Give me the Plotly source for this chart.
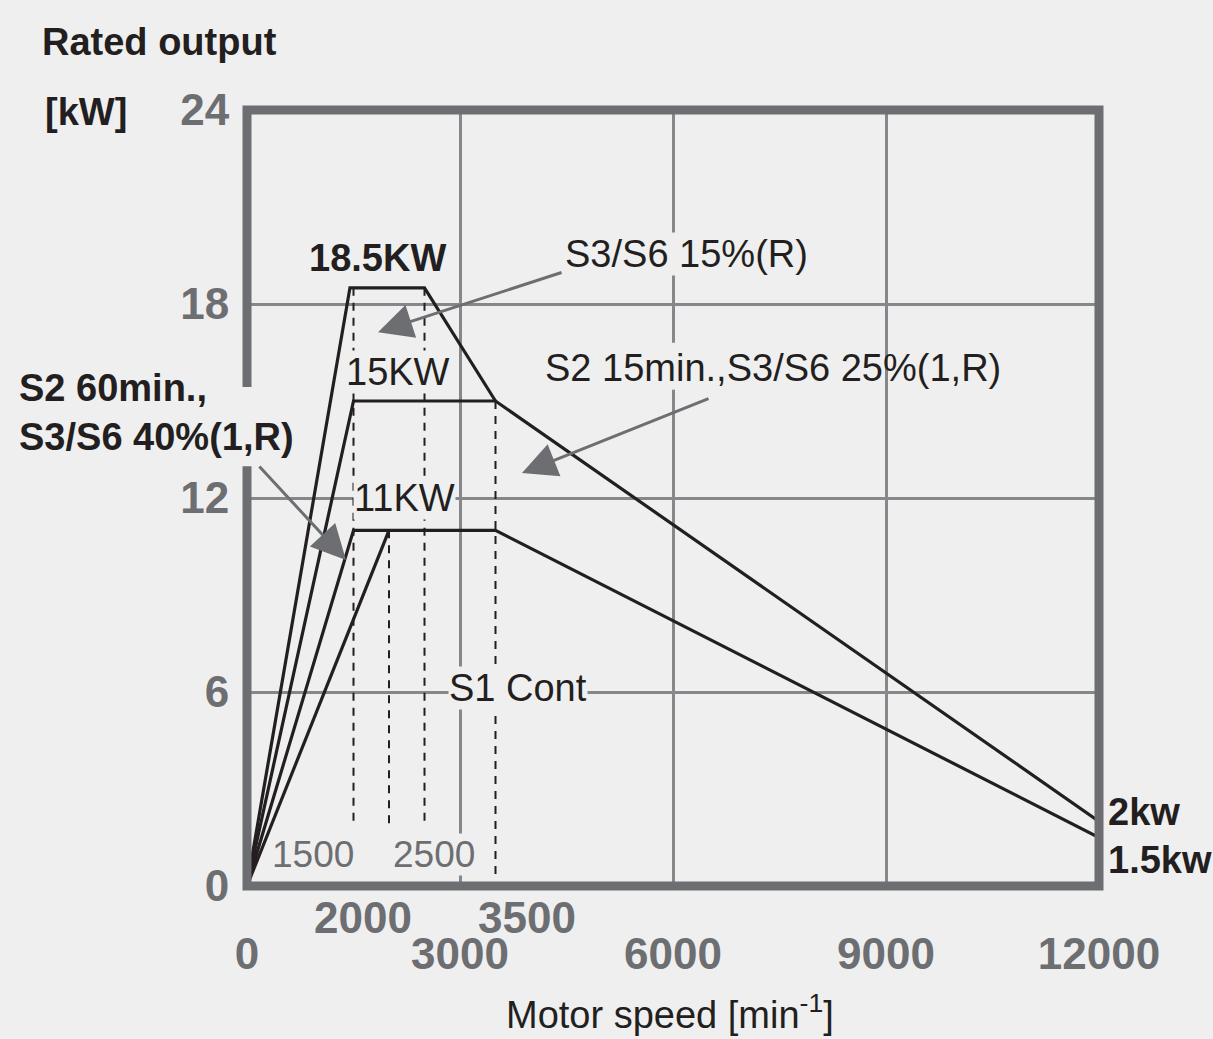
import plotly.graph_objects as go

# ---------------- data ----------------
speed_185 = [0, 1450, 2500, 3500]
power_185 = [0, 18.5, 18.5, 15]
speed_15 = [0, 1500, 3500, 12000]
power_15 = [0, 15, 15, 2]
speed_11 = [0, 1500, 3500, 12000]
power_11 = [0, 11, 11, 1.5]
speed_s1 = [0, 2000]
power_s1 = [0, 11]

dash_speeds = [1500, 2000, 2500, 3500]
dash_top = [18.5, 11, 18.5, 15]
dash_bottom = [1.8, 1.8, 1.8, 0.25]

x_ticks = [0, 3000, 6000, 9000, 12000]
x_ticks_extra = [2000, 3500]
y_ticks = [0, 6, 12, 18, 24]
inner_speed_labels = [1500, 2500]

BG = "#efefef"
GRAY = "#6d6e71"
GRID = "#86878a"
INK = "#231f20"
FONT = "Liberation Sans, Arial, sans-serif"

fig = go.Figure()

line_style = dict(color=INK, width=3.2)
for xs, ys in [(speed_185, power_185), (speed_15, power_15),
               (speed_11, power_11), (speed_s1, power_s1)]:
    fig.add_trace(go.Scatter(x=xs, y=ys, mode="lines", line=line_style,
                             hoverinfo="skip", showlegend=False))

dx, dy = [], []
for s, t, b in zip(dash_speeds, dash_top, dash_bottom):
    dx += [s, s, None]
    dy += [t, b, None]
fig.add_trace(go.Scatter(x=dx, y=dy, mode="lines",
                         line=dict(color=INK, width=2, dash="8px,7px"),
                         hoverinfo="skip", showlegend=False))

tickfont = dict(family=FONT, size=44, color=GRAY, weight="bold")

fig.update_layout(
    width=1213, height=1039, autosize=False,
    margin=dict(l=247, r=114, t=110, b=153, pad=0),
    paper_bgcolor=BG, plot_bgcolor=BG,
    showlegend=False,
    xaxis=dict(range=[0, 12000], tickvals=x_ticks, ticktext=[str(v) for v in x_ticks],
               showgrid=True, gridcolor=GRID, gridwidth=2.5, zeroline=False,
               showline=False, ticks="outside", ticklen=29,
               tickcolor="rgba(0,0,0,0)", tickfont=tickfont, fixedrange=True),
    yaxis=dict(range=[0, 24], tickvals=y_ticks, ticktext=[str(v) for v in y_ticks],
               showgrid=True, gridcolor=GRID, gridwidth=2.5, zeroline=False,
               showline=False, ticks="outside", ticklen=8,
               tickcolor="rgba(0,0,0,0)", tickfont=tickfont, fixedrange=True),
)

# thick frame
fig.add_shape(type="rect", xref="paper", yref="paper", x0=0, x1=1, y0=0, y1=1,
              line=dict(color=GRAY, width=9), layer="above")
# gap in the left frame behind the S2 60min label
fig.add_shape(type="rect", xref="paper", yref="paper", x0=-0.012, x1=0.008,
              y0=0.541, y1=0.643, fillcolor=BG, line=dict(width=0), layer="above")
# small gap in the 6000 grid line behind the S2 15min label
fig.add_shape(type="rect", xref="x", yref="y", x0=5930, x1=6070, y0=15.35, y1=16.8,
              fillcolor=BG, line=dict(width=0), layer="above")

txt = dict(family=FONT, size=38, color=INK)
txtb = dict(family=FONT, size=38, color=INK, weight="bold")

def note(x, y, text, font, bg=None, **kw):
    fig.add_annotation(x=x, y=y, text=text, showarrow=False, font=font,
                       bgcolor=bg, borderpad=0, **kw)

note(1845, 19.42, "18.5KW", txtb)
note(2127, 15.9, "15KW", txt, bg=BG)
note(2225, 12.0, "11KW", txt, bg=BG)
note(3817, 6.12, "S1 Cont", txt, bg=BG)
note(6197, 19.55, "S3/S6 15%(R)", txt, bg=BG)
note(7408, 16.02, "S2 15min.,S3/S6 25%(1,R)", txt)

speed_font = dict(family=FONT, size=37, color=GRAY)
note(930, 0.96, str(inner_speed_labels[0]), speed_font, bg=BG)
note(2634, 0.96, str(inner_speed_labels[1]), speed_font, bg=BG)

# second row of speed tick labels just under the axis
for v, shift in zip(x_ticks_extra, [-26, 31]):
    fig.add_annotation(xref="x", x=v, xshift=shift, yref="paper", y=0, yshift=-31,
                       yanchor="middle", text=str(v), showarrow=False, font=tickfont)

# labels outside the plot
fig.add_annotation(xref="paper", x=0, xshift=-230, xanchor="left", yref="y", y=14.63,
                   yanchor="middle", text="S2 60min.,<br>S3/S6 40%(1,R)", align="left",
                   showarrow=False, font=txtb)
fig.add_annotation(xref="paper", x=1, xshift=7, xanchor="left", yref="y", y=2.29,
                   yanchor="middle", text="2kw", showarrow=False, font=txtb)
fig.add_annotation(xref="paper", x=1, xshift=7, xanchor="left", yref="y", y=0.80,
                   yanchor="middle", text="1.5kw", showarrow=False, font=txtb)
fig.add_annotation(xref="paper", x=0, xshift=-207, xanchor="left", yref="paper", y=1,
                   yshift=68, yanchor="middle", text="Rated output", showarrow=False,
                   font=txtb)
fig.add_annotation(xref="paper", x=0, xshift=-204, xanchor="left", yref="paper", y=1,
                   yshift=-2, yanchor="middle", text="[kW]", showarrow=False, font=txtb)
fig.add_annotation(xref="paper", x=0.4965, xanchor="center", yref="paper", y=0,
                   yshift=-126, yanchor="middle", text="Motor speed [min<sup>-1</sup>]",
                   showarrow=False, font=txt)

# arrows
arrows = [((1845, 17.13), (4451, 18.99)),
          ((3873, 12.77), (6521, 15.09)),
          ((1394, 10.08), (155, 13.02))]
for (hx, hy), (tx, ty) in arrows:
    fig.add_annotation(x=hx, y=hy, ax=tx, ay=ty, axref="x", ayref="y", text="",
                       showarrow=True, arrowhead=2, arrowsize=2.3, arrowwidth=3,
                       arrowcolor=GRAY, standoff=0, startstandoff=0)

fig.write_html("out.html", config={"displayModeBar": False},
               post_script="document.body.style.margin='0';")
